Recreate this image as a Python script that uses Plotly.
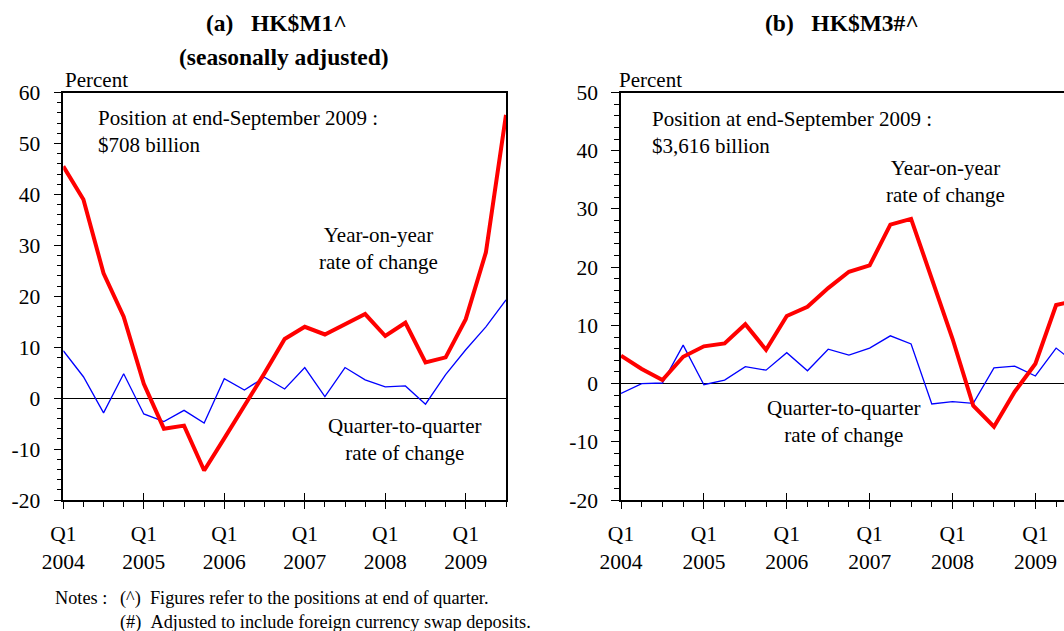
import plotly.graph_objects as go

# Quarterly observations, Q1 2004 to Q3 2009
quarters = [f"Q{q} {y}" for y in range(2004, 2010) for q in range(1, 5)][:23]

# (a) HK$M1, seasonally adjusted (% change)
m1_yoy = [45.5, 39.0, 24.5, 16.0, 2.8, -6.0, -5.4, -14.2, -7.9, -1.6, 4.9, 11.6,
          14.0, 12.5, 14.4, 16.5, 12.2, 14.8, 7.0, 8.0, 15.5, 28.6, 55.6]
m1_qoq = [9.3, 4.2, -2.9, 4.8, -3.1, -4.6, -2.4, -4.9, 3.8, 1.6, 4.1, 1.8,
          6.0, 0.3, 6.0, 3.6, 2.2, 2.4, -1.2, 4.6, 9.5, 14.0, 19.3]

# (b) HK$M3 (% change)
m3_yoy = [4.8, 2.5, 0.6, 4.6, 6.4, 6.9, 10.2, 5.8, 11.6, 13.2, 16.4, 19.2,
          20.3, 27.3, 28.3, 18.0, 7.7, -3.8, -7.4, -1.4, 3.4, 13.5, 14.3]
m3_qoq = [-1.7, 0.0, 0.1, 6.6, -0.2, 0.6, 2.9, 2.3, 5.3, 2.2, 5.9, 4.9,
          6.1, 8.2, 6.8, -3.5, -3.1, -3.4, 2.7, 3.0, 1.3, 6.1, 3.3]

# y-axis tick values for each panel (labels use a plain hyphen)
m1_yticks = list(range(-20, 61, 10))
m3_yticks = list(range(-20, 51, 10))

year_ticks = [i for i, q in enumerate(quarters) if q.startswith("Q1")]
year_text = [q.replace(" ", "<br>") for q in quarters if q.startswith("Q1")]
xpos = list(range(len(quarters)))

FONT = "Liberation Serif, Times New Roman, serif"
W, H = 1064, 631
ydom = [1 - 500 / H, 1 - 92.5 / H]

fig = go.Figure()

for xa, ya, yoy, qoq in (("x", "y", m1_yoy, m1_qoq), ("x2", "y2", m3_yoy, m3_qoq)):
    fig.add_trace(go.Scatter(x=xpos, y=qoq, mode="lines", xaxis=xa, yaxis=ya,
                             line=dict(color="#0000FF", width=1.3), showlegend=False,
                             hoverinfo="skip"))
    fig.add_trace(go.Scatter(x=xpos, y=yoy, mode="lines", xaxis=xa, yaxis=ya,
                             line=dict(color="#FF0000", width=4), showlegend=False,
                             hoverinfo="skip"))

# empty traces carrying the overlay axes used for the upward half of the yearly ticks
fig.add_trace(go.Scatter(x=[], y=[], xaxis="x3", yaxis="y", showlegend=False))
fig.add_trace(go.Scatter(x=[], y=[], xaxis="x4", yaxis="y2", showlegend=False))

tickfont = dict(family=FONT, size=21.5, color="black")


def xaxis(domain, rng, mirror):
    return dict(domain=domain, range=rng, tickmode="array", tickvals=year_ticks,
                ticktext=year_text, ticks="outside", ticklen=7, tickwidth=1.3,
                tickcolor="black", tickfont=tickfont, showline=True, linecolor="black",
                linewidth=1.5, mirror=mirror, showgrid=False, zeroline=False,
                automargin=False,
                minor=dict(tickmode="linear", tick0=0, dtick=1, ticks="outside",
                           ticklen=5, tickwidth=1.3, tickcolor="black"),
                ticklabelstandoff=6)


def yaxis(anchor, rng, vals, mirror):
    return dict(domain=ydom, range=rng, anchor=anchor, tickmode="array",
                tickvals=vals, ticktext=[str(v) for v in vals],
                ticks="outside", ticklen=8, tickwidth=1.3, tickcolor="black",
                tickfont=tickfont, showline=True, linecolor="black", linewidth=1.5,
                mirror=mirror, showgrid=False, zeroline=True, zerolinecolor="black",
                zerolinewidth=1.3, automargin=False,
                minor=dict(tickmode="linear", tick0=0, dtick=2, ticks="outside",
                           ticklen=5, tickwidth=1.3, tickcolor="black"),
                ticklabelstandoff=9)


def overlay(over, anchor, domain, rng):
    return dict(overlaying=over, anchor=anchor, domain=domain, range=rng,
                tickmode="array", tickvals=year_ticks, ticks="inside", ticklen=7,
                tickwidth=1.3, tickcolor="black", showticklabels=False,
                showline=False, showgrid=False, zeroline=False, automargin=False)


left_dom = [63.3 / W, 506 / W]
right_dom = [621 / W, 1.0]
left_rng = [0, 22]
right_rng = [0, (W - 621) / 20.72]

fig.update_layout(
    width=W, height=H, margin=dict(l=0, r=0, t=0, b=0, pad=0),
    paper_bgcolor="white", plot_bgcolor="white",
    xaxis=dict(anchor="y", **xaxis(left_dom, left_rng, True)),
    yaxis=yaxis("x", [-20, 60], m1_yticks, True),
    xaxis2=dict(anchor="y2", **xaxis(right_dom, right_rng, True)),
    yaxis2=yaxis("x2", [-20, 50], m3_yticks, False),
    xaxis3=overlay("x", "y", left_dom, left_rng),
    xaxis4=overlay("x2", "y2", right_dom, right_rng),
    font=dict(family=FONT, size=21, color="black"),
)

txt = dict(family=FONT, size=21, color="black")
bold = dict(family=FONT, size=23.5, color="black")
notef = dict(family=FONT, size=18.3, color="black")
NB = "\u00a0"

ann = [
    # panel titles
    dict(text=f"<b>(a){NB*3}HK$M1^</b>", x=276 / W, y=1 - 23 / H, font=bold),
    dict(text="<b>(seasonally adjusted)</b>", x=284 / W, y=1 - 57 / H, font=bold),
    dict(text=f"<b>(b){NB*3}HK$M3#^</b>", x=842 / W, y=1 - 23 / H, font=bold),
    # unit labels
    dict(text="Percent", x=63 / W, y=1 - 80 / H, xanchor="left", font=txt),
    dict(text="Percent", x=617 / W, y=1 - 80 / H, xanchor="left", font=txt),
    # notes
    dict(text="Notes :", x=53 / W, y=1 - 598 / H, xanchor="left", font=notef),
    dict(text=f"(^){NB*2}Figures refer to the positions at end of quarter.",
         x=118 / W, y=1 - 598 / H, xanchor="left", font=notef),
    dict(text=f"(#){NB*2}Adjusted to include foreign currency swap deposits.",
         x=118 / W, y=1 - 622 / H, xanchor="left", font=notef),
]
for a in ann:
    a.update(xref="paper", yref="paper", showarrow=False, yanchor="middle")
    a.setdefault("xanchor", "center")
    fig.add_annotation(**a)

# in-panel labels, placed in data units
panel_labels = [
    ("x", "y", "Position at end-September 2009 :<br>$708 billion", 1.62, 52.4, "left"),
    ("x", "y", "Year-on-year<br>rate of change", 15.67, 29.4, "center"),
    ("x", "y", "Quarter-to-quarter<br>rate of change", 16.98, -8.2, "center"),
    ("x2", "y2", "Position at end-September 2009 :<br>$3,616 billion", 1.38, 43.1, "left"),
    ("x2", "y2", "Year-on-year<br>rate of change", 15.64, 34.66, "center"),
    ("x2", "y2", "Quarter-to-quarter<br>rate of change", 10.78, -6.45, "center"),
]
for xr, yr, t, xv, yv, anc in panel_labels:
    fig.add_annotation(text=t, x=xv, y=yv, xref=xr, yref=yr, showarrow=False,
                       xanchor=anc, yanchor="middle", align=anc, font=txt)

fig.write_html("out.html")
